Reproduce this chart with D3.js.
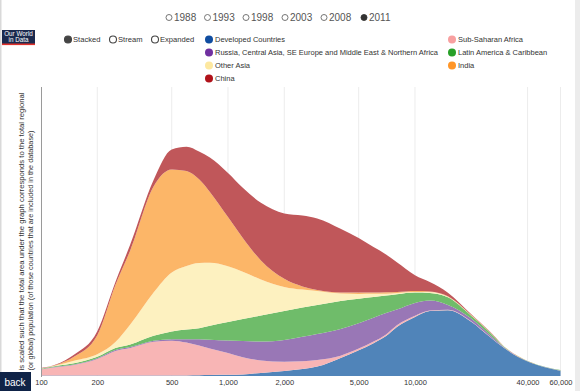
<!DOCTYPE html>
<html><head><meta charset="utf-8">
<script src="https://cdn.jsdelivr.net/npm/d3@7"></script>
<style>
body{margin:0;background:#fff;overflow:hidden;}
svg{display:block;font-family:"Liberation Sans",Arial,sans-serif;}
</style>
</head><body><svg id="c" width="580" height="391"></svg>
<script>
// ---- data ----
const income = [100,120,150,200,250,300,400,500,600,700,800,1000,1200,1500,2000,2500,3000,4000,5000,6000,7000,8000,10000,12000,15000,20000,25000,30000,40000,50000,60000];
const developed = [0.5,0.5,0.6,0.5,0.5,0.5,0.5,0.5,0.6,0.8,1,1.2,1.5,3.1,5,6.9,9.4,18,25.8,32.8,39.9,49,59,64.9,65.7,54.2,39.4,27.9,14.4,8.5,5.3];
const subSaharan = [6,8.3,10.4,16.5,24.5,27.5,33.7,34.8,32.9,29.7,26.6,21.7,17.2,12.5,9.3,7.9,6.6,2.3,1.6,1.6,1.7,1.7,1.3,0.6,0.6,0.5,0.4,0.3,0.1,0.1,0.1];
const russiaMENA = [0.3,0.4,0.6,0.8,1,1,1,1.4,3.2,6.2,8.6,12.5,16.3,18.8,21.7,24.5,26,26.8,25.4,23.8,21.4,15.8,12.8,10,4.8,2.8,1.8,0.6,0.2,0.1,0.1];
const latinAmerica = [0.5,0.8,1.2,1.5,2,2.5,5,7.8,9.7,11.1,14.1,18.5,21.9,26.1,28.9,29.3,29,27.8,24.4,20.7,17.4,15.3,10.4,7.5,7.6,2.8,2.5,0.5,0.3,0.3,0.4];
const otherAsia = [0.3,0.6,2.5,2.5,6,20,43.3,59,63.7,65.2,63,55.9,47.3,36.1,24.2,17.8,14,7.6,4.8,3.3,1.9,1.2,0.5,1,0.5,0.3,0.2,0.1,0,0,0];
const india = [0.2,0.5,4,19,57,74,106.1,103.1,94.9,83.7,70.8,49.2,33.9,19,8.1,3.2,1,1,1.5,1.3,1.4,1,1,0.5,0.5,0.3,0.2,0.1,0,0,0];
const china = [0.2,0.4,2,4,3,6,6.4,19.9,24.2,27.8,34.3,44,50.1,57.6,65.4,70.9,71.6,63.8,54.5,45.5,37.9,29.8,15.8,9.5,3.6,0.8,0.4,0.1,0.05,0,0];

const seriesNames = ["Developed Countries","Sub-Saharan Africa","Russia, Central Asia, SE Europe and Middle East & Northern Africa","Latin America & Caribbean","Other Asia","India","China"];
const seriesValues = [developed, subSaharan, russiaMENA, latinAmerica, otherAsia, india, china];
const years = ["1988","1993","1998","2003","2008","2011"];
const selectedYear = "2011";
const modes = ["Stacked","Stream","Expanded"];
const selectedMode = "Stacked";
const tickValues = [100,200,500,1000,2000,5000,10000,40000,60000];
const yLabelLines = ["is scaled such that the total area under the graph corresponds to the total regional",
                     "(or global) population (of those countries that are included in the database)"];

// ---- styles ----
const areaColors = ["#5084b9","#f8b5b5","#9977b6","#6fbc6a","#fdf1c0","#fcb668","#c0575a"];
const legendColors = ["#104da0","#f8a0a0","#7030a0","#28a028","#fde8a0","#ff9628","#b0121a"];

const svg = d3.select("#c");

// page borders
svg.append("rect").attr("x",0).attr("y",0).attr("width",1.5).attr("height",391).attr("fill","#d9d9d9");
svg.append("rect").attr("x",575).attr("y",0).attr("width",5).attr("height",391).attr("fill","#ececec");

// scales
const x = d3.scaleLog().domain([100,60000]).range([41,560.5]);
const y = d3.scaleLinear().domain([0,288]).range([376,88]);

// table for stack
const table = income.map((v,i)=>{ const o={income:v}; seriesNames.forEach((n,k)=>o[n]=seriesValues[k][i]); return o; });
const stacked = d3.stack().keys(seriesNames)(table);

// grid lines
svg.append("g").selectAll("line").data(tickValues.slice(1)).join("line")
  .attr("x1",d=>x(d)).attr("x2",d=>x(d)).attr("y1",87).attr("y2",376)
  .attr("stroke","#ececec").attr("stroke-width",1);

// areas
const area = d3.area()
  .x(d=>x(d.data.income))
  .y0(d=>y(d[0])).y1(d=>y(d[1]))
  .curve(d3.curveMonotoneX);
svg.append("g").selectAll("path").data(stacked).join("path")
  .attr("d",area).attr("fill",(d,i)=>areaColors[i]);

// y axis line
svg.append("line").attr("x1",41.5).attr("x2",41.5).attr("y1",87).attr("y2",377)
  .attr("stroke","#9a9a9a").attr("stroke-width",1);

// x axis
const xAxis = d3.axisBottom(x).tickValues(tickValues).tickFormat(d3.format(",")).tickSize(0).tickPadding(0);
const gx = svg.append("g").attr("transform","translate(0,378)").call(xAxis);
gx.select(".domain").remove();
gx.selectAll("text").attr("font-size",7.5).attr("fill","#333").attr("font-family","Liberation Sans, Arial, sans-serif").attr("dy","0.95em");

// y label (rotated, running upward from just above the back button)
const yl = svg.append("g");
const yLabelLen = [278, 240];
yLabelLines.forEach((t,i)=>{
  yl.append("text").attr("transform",`translate(${24+i*8.8},370.5) rotate(-90)`)
    .attr("font-size",8).attr("fill","#333").attr("text-anchor","start")
    .attr("textLength",yLabelLen[i]).attr("lengthAdjust","spacingAndGlyphs").text(t);
});

// year selector
const yearX = [169,207.5,246,285,324,364];
years.forEach((yr,i)=>{
  const sel = yr===selectedYear;
  svg.append("circle").attr("cx",yearX[i]).attr("cy",17.5).attr("r",3)
    .attr("fill",sel?"#333":"#fff").attr("stroke",sel?"#333":"#666").attr("stroke-width",0.9);
  svg.append("text").attr("x",yearX[i]+5).attr("y",21.3).attr("font-size",10).attr("fill","#555").text(yr);
});

// mode selector
const modeX = [68,113,155];
modes.forEach((m,i)=>{
  const sel = m===selectedMode;
  svg.append("circle").attr("cx",modeX[i]).attr("cy",39.5).attr("r",3.5)
    .attr("fill",sel?"#444":"#fff").attr("stroke","#444").attr("stroke-width",1.1);
  svg.append("text").attr("x",modeX[i]+5).attr("y",42.3).attr("font-size",7.6).attr("fill","#333").text(m);
});

// series legend
seriesNames.forEach((n,i)=>{
  const col = i%2, row = Math.floor(i/2);
  const cx = col===0?209:452, cy = 39.5 + row*13;
  svg.append("circle").attr("cx",cx).attr("cy",cy).attr("r",4).attr("fill",legendColors[i]);
  svg.append("text").attr("x",cx+6).attr("y",cy+2.7).attr("font-size",7.5).attr("fill","#333").text(n);
});

// logo
svg.append("rect").attr("x",2).attr("y",30).attr("width",33).attr("height",14).attr("fill","#1b2a4e");
svg.append("rect").attr("x",2).attr("y",43.5).attr("width",33).attr("height",1.6).attr("fill","#e0312b");
svg.append("text").attr("x",18.5).attr("y",36).attr("text-anchor","middle").attr("font-size",6.3).attr("fill","#fff").text("Our World");
svg.append("text").attr("x",18.5).attr("y",42).attr("text-anchor","middle").attr("font-size",6.3).attr("fill","#fff").text("in Data");

// back button
svg.append("rect").attr("x",0).attr("y",372).attr("width",31).attr("height",19).attr("fill","#0f2347");
svg.append("text").attr("x",15).attr("y",385.5).attr("text-anchor","middle").attr("font-size",10).attr("fill","#fff").text("back");
</script>
</body></html>
